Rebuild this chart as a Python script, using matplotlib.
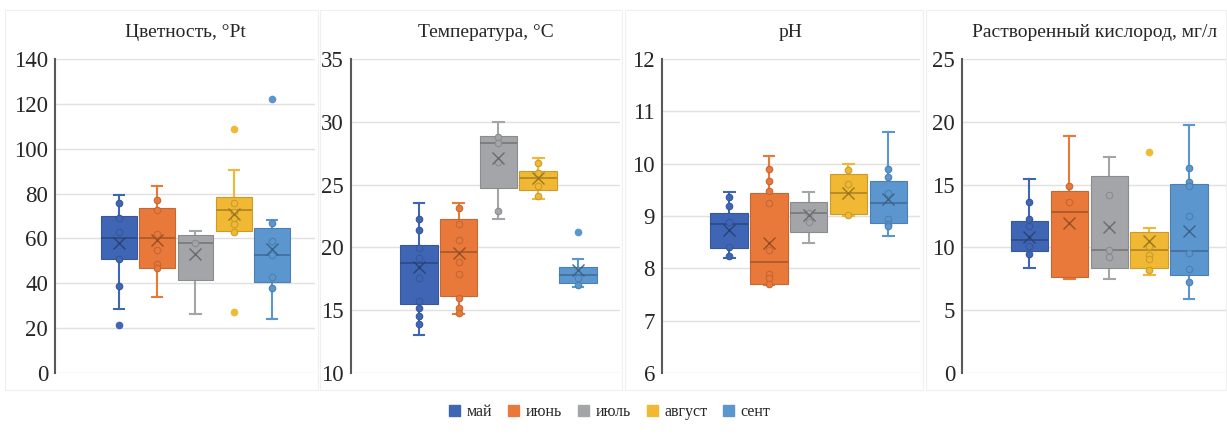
import matplotlib
matplotlib.use("Agg")
import matplotlib.pyplot as plt
from matplotlib.patches import Patch, Rectangle
import matplotlib.colors as mcolors

plt.rcParams['font.family'] = ['Liberation Serif', 'DejaVu Serif']

months = ["май", "июнь", "июль", "август", "сент"]
colors = ["#3F66B5", "#E8793A", "#A3A5A8", "#F0B833", "#5B96CF"]

# Цветность
cvet_low = [28.5, 34, 26.5, 63.5, 24]
cvet_q1 = [51, 47, 41.5, 63.5, 40.5]
cvet_med = [60, 60, 58, 72.5, 52.5]
cvet_q3 = [70, 73.5, 61.5, 78.5, 64.5]
cvet_high = [79.5, 83.5, 63.5, 90.5, 68]
cvet_mean = [58, 59.5, 53, 71, 55.5]
cvet_fliers = [[21.5], [], [], [109, 27], [122]]
cvet_points = [[76, 69, 63, 51, 39], [77, 72.5, 62, 55, 48.5, 47], [58],
               [76, 72, 69, 66.5, 63], [67, 59, 52.5, 43, 38]]

# Температура
temp_low = [13.0, 14.7, 22.3, 23.85, 16.85]
temp_q1 = [15.5, 16.15, 24.7, 24.55, 17.15]
temp_med = [18.75, 19.6, 28.35, 25.5, 17.8]
temp_q3 = [20.2, 22.3, 28.9, 26.1, 18.45]
temp_high = [23.5, 23.5, 29.95, 27.1, 19.05]
temp_mean = [18.4, 19.55, 27.1, 25.5, 18.2]
temp_fliers = [[], [], [], [], [21.2]]
temp_points = [[22.3, 21.4, 19.95, 19.15, 17.6, 15.7, 15.2, 14.5, 13.9],
               [23.1, 21.9, 20.6, 18.8, 17.9, 16.0, 15.2, 14.8],
               [28.8, 28.3, 26.8, 22.9],
               [26.7, 25.9, 24.9, 24.1],
               [17.55, 17.0]]

# pH
ph_low = [8.19, 7.68, 8.49, 9.0, 8.62]
ph_q1 = [8.39, 7.71, 8.7, 9.03, 8.87]
ph_med = [8.85, 8.13, 9.05, 9.43, 9.25]
ph_q3 = [9.05, 9.43, 9.27, 9.8, 9.66]
ph_high = [9.45, 10.15, 9.45, 9.99, 10.6]
ph_mean = [8.74, 8.49, 9.02, 9.43, 9.32]
ph_fliers = [[], [], [], [], []]
ph_points = [[9.37, 9.19, 8.89, 8.41, 8.23],
             [9.89, 9.66, 9.48, 9.24, 8.35, 7.9, 7.81, 7.71],
             [8.89, 9.05],
             [9.88, 9.62, 9.02],
             [9.89, 9.75, 9.43, 8.95, 8.84, 8.8]]

# Растворенный кислород
oxy_low = [8.38, 7.45, 7.5, 7.77, 5.9]
oxy_q1 = [9.7, 7.63, 8.35, 8.35, 7.77]
oxy_med = [10.6, 12.8, 9.8, 9.8, 9.68]
oxy_q3 = [12.14, 14.5, 15.7, 11.2, 15.06]
oxy_high = [15.45, 18.9, 17.2, 11.55, 19.75]
oxy_mean = [10.8, 11.96, 11.6, 10.47, 11.27]
oxy_fliers = [[], [], [], [17.6], []]
oxy_points = [[13.6, 12.27, 11.7, 10.15, 9.5],
              [14.85, 13.6],
              [14.2, 9.8, 9.2],
              [10.15, 9.4, 9.1, 8.2],
              [16.3, 15.2, 14.85, 12.5, 9.57, 8.3, 7.24]]

panels = [
    ("Цветность, °Pt", (0, 140), 20, (-0.68, 6.13),
     cvet_low, cvet_q1, cvet_med, cvet_q3, cvet_high, cvet_mean, cvet_fliers, cvet_points),
    ("Температура, °C", (10, 35), 5, (-0.71, 6.06),
     temp_low, temp_q1, temp_med, temp_q3, temp_high, temp_mean, temp_fliers, temp_points),
    ("pH", (6, 12), 1, (-0.69, 5.8),
     ph_low, ph_q1, ph_med, ph_q3, ph_high, ph_mean, ph_fliers, ph_points),
    ("Растворенный кислород, мг/л", (0, 25), 5, (-0.69, 5.95),
     oxy_low, oxy_q1, oxy_med, oxy_q3, oxy_high, oxy_mean, oxy_fliers, oxy_points),
]

W, H = 1227, 434
fig = plt.figure(figsize=(W / 100, H / 100), dpi=100)

# chart-area frames (each panel was a separate chart)
frames = [(5, 10, 313, 380), (320, 10, 302, 380), (625, 10, 298, 380), (926, 10, 300, 380)]
for x0, y0, w, h in frames:
    fig.patches.append(Rectangle((x0 / W, 1 - (y0 + h) / H), w / W, h / H,
                                 transform=fig.transFigure, fill=False,
                                 edgecolor="#EFEFEF", lw=0.8))

axes_x = [(55, 315), (351, 620), (662, 920), (962, 1227)]
top_px, bot_px = 59, 373


def darker(c, f=0.75):
    r, g, b = mcolors.to_rgb(c)
    return (r * f, g * f, b * f)


for (x0, x1), p in zip(axes_x, panels):
    title, ylim, step, xlim, lo, q1, med, q3, hi, mean, fliers, points = p
    ax = fig.add_axes([x0 / W, 1 - bot_px / H, (x1 - x0) / W, (bot_px - top_px) / H])
    stats = []
    for i in range(5):
        stats.append(dict(whislo=lo[i], q1=q1[i], med=med[i], q3=q3[i],
                          whishi=hi[i], mean=mean[i], fliers=fliers[i]))
    pos = list(range(1, 6))
    bp = ax.bxp(stats, positions=pos, widths=0.94, capwidths=0.27,
                patch_artist=True, showmeans=True, showfliers=True)
    for i, c in enumerate(colors):
        d = darker(c, 0.85)
        bp['boxes'][i].set(facecolor=c, edgecolor=d, linewidth=0.8, zorder=2)
        bp['medians'][i].set(color=darker(c, 0.7), linewidth=1.1, zorder=3)
        bp['means'][i].set(marker='x', markeredgecolor=darker(c, 0.65),
                           markersize=8, markeredgewidth=1.0, zorder=5)
        for w in bp['whiskers'][2 * i:2 * i + 2]:
            w.set(color=c, linewidth=1.5, zorder=1)
        for cp in bp['caps'][2 * i:2 * i + 2]:
            cp.set(color=c, linewidth=1.5, zorder=1)
        bp['fliers'][i].set(marker='o', markerfacecolor=c, markeredgecolor=c,
                            markersize=4.5)
        ax.scatter([pos[i]] * len(points[i]), points[i], s=22, facecolor=c,
                   edgecolor=darker(c, 0.85), linewidth=0.8, zorder=4)

    ax.set_xlim(*xlim)
    ax.set_ylim(*ylim)
    ax.set_yticks(list(range(ylim[0], ylim[1] + 1, step)))
    ax.set_xticks([])
    ax.yaxis.grid(True, color="#E0E0E0", linewidth=1)
    ax.set_axisbelow(True)
    for s in ['top', 'right', 'bottom']:
        ax.spines[s].set_visible(False)
    ax.spines['left'].set_color("#595959")
    ax.spines['left'].set_linewidth(1.5)
    ax.tick_params(axis='y', length=0, pad=5, labelsize=16.5, labelcolor="#262626")
    ax.set_title(title, fontsize=14, pad=16, color="#262626")

handles = [Patch(facecolor=c, edgecolor=c) for c in colors]
fig.legend(handles, months, loc='center', bbox_to_anchor=(0.497, 1 - 412 / H),
           ncol=5, frameon=False, fontsize=11.5, handlelength=0.7, handleheight=0.7,
           handletextpad=0.4, columnspacing=1.0, labelcolor="#262626")

fig.savefig("out.png", dpi=100)
